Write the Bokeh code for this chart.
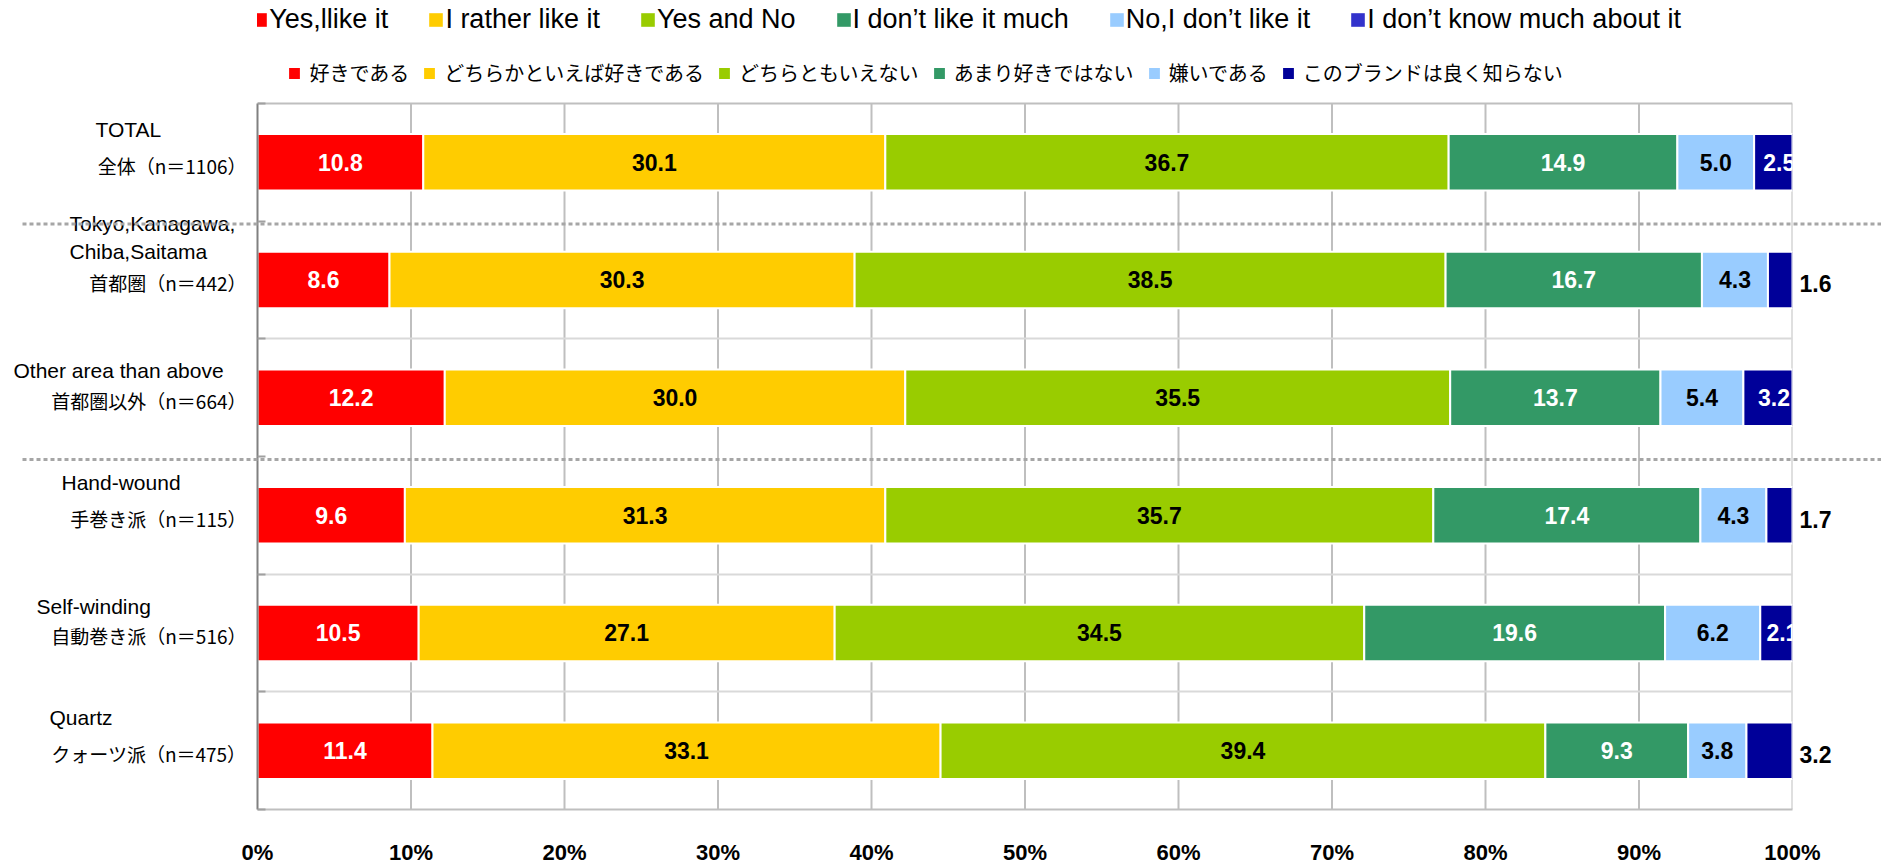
from bokeh.plotting import figure
from bokeh.models import ColumnDataSource, Range1d, FixedTicker, Legend, LegendItem
from bokeh.core.properties import value
from bokeh.embed import file_html
from bokeh.resources import INLINE

# ---------------- data ----------------
categories_en = ["TOTAL", "Tokyo,Kanagawa,\nChiba,Saitama", "Other area than above",
                 "Hand-wound", "Self-winding", "Quartz"]
categories_jp = ["全体（n＝1106）", "首都圏（n＝442）", "首都圏以外（n＝664）",
                 "手巻き派（n＝115）", "自動巻き派（n＝516）", "クォーツ派（n＝475）"]
series_en = ["Yes,llike it", "I rather like it", "Yes and No",
             "I don\u2019t like it much", "No,I don\u2019t like it", "I don\u2019t know much about it"]
series_jp = ["好きである", "どちらかといえば好きである", "どちらともいえない",
             "あまり好きではない", "嫌いである", "このブランドは良く知らない"]
like = [10.8, 8.6, 12.2, 9.6, 10.5, 11.4]
rather_like = [30.1, 30.3, 30.0, 31.3, 27.1, 33.1]
neutral = [36.7, 38.5, 35.5, 35.7, 34.5, 39.4]
dislike_much = [14.9, 16.7, 13.7, 17.4, 19.6, 9.3]
dislike = [5.0, 4.3, 5.4, 4.3, 6.2, 3.8]
dont_know = [2.5, 1.6, 3.2, 1.7, 2.1, 3.2]
x_ticks = [0, 10, 20, 30, 40, 50, 60, 70, 80, 90, 100]
x_tick_labels = ["0%", "10%", "20%", "30%", "40%", "50%", "60%", "70%", "80%", "90%", "100%"]

# ---------------- styles / layout ----------------
colors = ["#FF0000", "#FFCC00", "#99CC00", "#339966", "#99CCFF", "#000099"]
en_legend_colors = ["#FF0000", "#FFCC00", "#99CC00", "#339966", "#99CCFF", "#3333CC"]
label_colors = ["white", "black", "black", "white", "black", "white"]
label_x_offsets = [0, 0, 0, 0, 0, 6]
last_label_outside = [False, True, False, True, False, True]
separator_after = [0, 2]
en_label_left_px = [95, 69, 13, 61, 36, 49]
en_label_dy_px = [-33, -43, -27, -33, -27, -33]

FIG_W, FIG_H = 1881, 867
PLOT_L, PLOT_R, PLOT_T, PLOT_B = 257, 1792, 104, 817   # page pixels of the bar area
n_rows = len(categories_en)
px_x = (PLOT_R - PLOT_L) / 100.0
px_y = (PLOT_B - PLOT_T) / n_rows
y_top = -PLOT_T / px_y          # frame reaches up to the page top (legend area)


def x_of(px):
    return (px - PLOT_L) / px_x


p = figure(width=FIG_W, height=FIG_H, x_range=Range1d(0, 100), y_range=Range1d(n_rows, y_top),
           output_backend="svg", toolbar_location=None,
           min_border_left=PLOT_L, min_border_right=FIG_W - PLOT_R,
           min_border_top=0, min_border_bottom=FIG_H - PLOT_B)
p.background_fill_color = "white"
p.border_fill_color = "white"
p.outline_line_color = None

# plot-area frame lines and vertical gridlines
p.segment(x0=x_ticks[1:], x1=x_ticks[1:], y0=[0] * (len(x_ticks) - 1), y1=[n_rows] * (len(x_ticks) - 1),
          line_color="#BFBFBF", line_width=2, level="underlay")
p.segment(x0=[x_ticks[0]], x1=[x_ticks[-1]], y0=[0], y1=[0],
          line_color="#BFBFBF", line_width=2, level="underlay")

stackers = ["like", "rather_like", "neutral", "dislike_much", "dislike", "dont_know"]
series_vals = [like, rather_like, neutral, dislike_much, dislike, dont_know]
ys = [i + 0.5 for i in range(n_rows)]
src = ColumnDataSource(dict(y=ys, **{k: v for k, v in zip(stackers, series_vals)}))
bars = p.hbar_stack(stackers, y="y", height=0.48, fill_color=colors, line_color="white",
                    line_width=2, source=src)

# data labels
in_x, in_y, in_t, in_c, in_o = [], [], [], [], []
out_x, out_y, out_t = [], [], []
for r in range(n_rows):
    left = 0.0
    for s, vals in enumerate(series_vals):
        v = vals[r]
        if s == len(series_vals) - 1 and last_label_outside[r]:
            out_x.append(100 + 7 / px_x)
            out_y.append(ys[r] + 4 / px_y)
            out_t.append(f"{v:.1f}")
        else:
            in_x.append(left + v / 2)
            in_y.append(ys[r])
            in_t.append(f"{v:.1f}")
            in_c.append(label_colors[s])
            in_o.append(label_x_offsets[s])
        left += v

p.text(x="x", y="y", text="t", text_color="c", x_offset="o",
       source=ColumnDataSource(dict(x=in_x, y=in_y, t=in_t, c=in_c, o=in_o)),
       text_font=value("Liberation Sans"), text_font_style="bold", text_font_size="23px",
       text_align="center", text_baseline="middle")
p.text(x="x", y="y", text="t", source=ColumnDataSource(dict(x=out_x, y=out_y, t=out_t)),
       text_color="black", text_font=value("Liberation Sans"), text_font_style="bold",
       text_font_size="23px", text_align="left", text_baseline="middle", level="overlay")

# category labels (left of the frame)
p.text(x=[x_of(px) for px in en_label_left_px],
       y=[ys[i] + en_label_dy_px[i] / px_y for i in range(n_rows)],
       text=categories_en, text_color="black", text_font=value("Liberation Sans"),
       text_font_size="21px", text_align="left", text_baseline="middle",
       text_line_height=1.2, level="overlay")
p.text(x=[x_of(246)] * n_rows, y=[y + 3 / px_y for y in ys], text=categories_jp,
       text_color="black", text_font=value("Noto Sans CJK JP"), text_font_size="19px",
       text_align="right", text_baseline="middle", level="overlay")

# dotted group separators
sep_y = [r + 1 + 3 / px_y for r in separator_after]
p.segment(x0=[x_of(22)] * len(sep_y), x1=[x_of(FIG_W)] * len(sep_y), y0=sep_y, y1=sep_y,
          line_color="#A6A6A6", line_width=3, line_dash="4 3", level="overlay")

# axes and grids
p.xaxis.ticker = FixedTicker(ticks=x_ticks)
p.xaxis.major_label_overrides = {t: l for t, l in zip(x_ticks, x_tick_labels)}
p.xaxis.major_tick_line_color = None
p.xaxis.minor_tick_line_color = None
p.xaxis.axis_line_color = "#BFBFBF"
p.xaxis.axis_line_width = 2
p.xaxis.major_label_standoff = 24
p.xaxis.major_label_text_font = "Liberation Sans"
p.xaxis.major_label_text_font_style = "bold"
p.xaxis.major_label_text_font_size = "22px"
p.xaxis.major_label_text_color = "black"

p.yaxis.bounds = (0, n_rows)
p.yaxis.ticker = FixedTicker(ticks=list(range(n_rows + 1)))
p.yaxis.major_label_overrides = {t: "" for t in range(n_rows + 1)}
p.yaxis.major_tick_in = 8
p.yaxis.major_tick_out = 0
p.yaxis.major_tick_line_color = "#A0A0A0"
p.yaxis.major_tick_line_width = 2
p.yaxis.minor_tick_line_color = None
p.yaxis.axis_line_color = "#808080"
p.yaxis.axis_line_width = 2

p.xgrid.visible = False
p.ygrid.ticker = FixedTicker(ticks=[b for b in range(1, n_rows) if (b - 1) not in separator_after])
p.ygrid.grid_line_color = "#D9D9D9"
p.ygrid.grid_line_width = 2

# legends (English row on top, Japanese row below it)
en_proxies = [p.hbar(y=[ys[0]], left=[0], right=[0], height=0.48, fill_color=c, line_color=None)
              for c in en_legend_colors]
leg_en = Legend(items=[LegendItem(label=l, renderers=[r]) for l, r in zip(series_en, en_proxies)],
                orientation="horizontal", location=(-5.7, PLOT_B - 43),
                glyph_width=17, glyph_height=17, label_height=32, label_standoff=1, spacing=39,
                padding=0, margin=0, border_line_color=None, background_fill_alpha=0,
                label_text_font="Liberation Sans", label_text_font_size="27px",
                label_text_color="black")
leg_jp = Legend(items=[LegendItem(label=l, renderers=[r]) for l, r in zip(series_jp, bars)],
                orientation="horizontal", location=(29.4, PLOT_B - 95.5),
                glyph_width=16, glyph_height=16, label_height=30, label_standoff=7, spacing=12,
                padding=0, margin=0, border_line_color=None, background_fill_alpha=0,
                label_text_font="Noto Sans CJK JP", label_text_font_size="20px",
                label_text_color="black")
p.add_layout(leg_en)
p.add_layout(leg_jp)

open("out.html", "w").write(file_html(p, INLINE))
